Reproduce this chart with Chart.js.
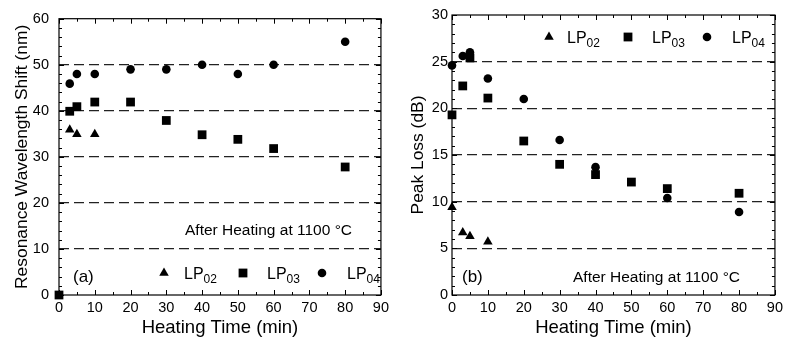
<!DOCTYPE html>
<html>
<head>
<meta charset="utf-8">
<script src="https://cdn.jsdelivr.net/npm/chart.js@4"></script>
<style>
  html, body { margin: 0; padding: 0; background: #fff; }
  #wrap { position: relative; width: 787px; height: 341px; }
  canvas { position: absolute; top: 0; }
</style>
</head>
<body>
<div id="wrap">
  <canvas id="chartA" width="393" height="341" style="left:0"></canvas>
  <canvas id="chartB" width="394" height="341" style="left:393px"></canvas>
</div>
<script>
// (a) resonance wavelength shift, nm
const lp02TimeA = [3, 5, 10];
const lp02ShiftA = [35.9, 34.9, 34.9];
const lp03TimeA = [0, 3, 5, 10, 20, 30, 40, 50, 60, 80];
const lp03ShiftA = [0, 39.9, 40.9, 41.9, 41.9, 37.9, 34.8, 33.8, 31.8, 27.8];
const lp04TimeA = [3, 5, 10, 20, 30, 40, 50, 60, 80];
const lp04ShiftA = [45.9, 48, 48, 49, 49, 50, 48, 50, 55];

// (b) peak loss, dB
const lp02TimeB = [0, 3, 5, 10];
const lp02LossB = [9.4, 6.7, 6.3, 5.7];
const lp03TimeB = [0, 3, 5, 10, 20, 30, 40, 50, 60, 80];
const lp03LossB = [19.3, 22.4, 25.4, 21.1, 16.5, 14.0, 12.9, 12.1, 11.4, 10.9];
const lp04TimeB = [0, 3, 5, 10, 20, 30, 40, 60, 80];
const lp04LossB = [24.6, 25.6, 26.0, 23.2, 21.0, 16.6, 13.7, 10.4, 8.9];

const modeNames = ['02', '03', '04'];
const FONT = "'Liberation Sans', Arial, sans-serif";

function pts(xs, ys) { return xs.map((t, i) => ({ x: t, y: ys[i] })); }

function ds(xs, ys, style, r) {
  return { data: pts(xs, ys), pointStyle: style, pointRadius: r, pointHoverRadius: r,
    backgroundColor: '#000', borderColor: '#000', borderWidth: 0, clip: false };
}

// frame on four sides with inward major/minor ticks
const frameTicks = {
  id: 'frameTicks',
  afterDraw(chart, args, o) {
    const { ctx, chartArea: a, scales: { x, y } } = chart;
    ctx.save();
    ctx.strokeStyle = '#000';
    ctx.lineWidth = 1.2;
    ctx.strokeRect(a.left, a.top, a.right - a.left, a.bottom - a.top);
    ctx.beginPath();
    for (let v = x.min; v <= x.max + 1e-6; v += o.xMinor) {
      const p = Math.round(x.getPixelForValue(v)) + 0.5;
      const len = Math.abs(v / o.xMajor - Math.round(v / o.xMajor)) < 1e-6 ? 5 : 3;
      ctx.moveTo(p, a.bottom); ctx.lineTo(p, a.bottom - len);
      ctx.moveTo(p, a.top); ctx.lineTo(p, a.top + len);
    }
    for (let v = y.min; v <= y.max + 1e-6; v += o.yMinor) {
      const p = Math.round(y.getPixelForValue(v)) + 0.5;
      const len = Math.abs(v / o.yMajor - Math.round(v / o.yMajor)) < 1e-6 ? 5 : 3;
      ctx.moveTo(a.left, p); ctx.lineTo(a.left + len, p);
      ctx.moveTo(a.right, p); ctx.lineTo(a.right - len, p);
    }
    ctx.lineWidth = 1;
    ctx.stroke();
    ctx.restore();
  }
};

function marker(ctx, style, cx, cy) {
  ctx.beginPath();
  if (style === 'triangle') {
    const r = 5.5;
    ctx.moveTo(cx, cy - r);
    ctx.lineTo(cx + r * 0.866, cy + r / 2);
    ctx.lineTo(cx - r * 0.866, cy + r / 2);
    ctx.closePath();
  } else if (style === 'rect') {
    ctx.rect(cx - 4.4, cy - 4.4, 8.8, 8.8);
  } else {
    ctx.arc(cx, cy, 4.3, 0, Math.PI * 2);
  }
  ctx.fill();
}

// legend with subscripts, panel letter and heating note
const notes = {
  id: 'notes',
  afterDraw(chart, args, o) {
    const ctx = chart.ctx;
    ctx.save();
    ctx.fillStyle = '#000';
    ctx.textBaseline = 'alphabetic';
    const styles = ['triangle', 'rect', 'circle'];
    o.legend.forEach((it, i) => {
      marker(ctx, styles[i], it.mx, o.legendY);
      ctx.font = '16px ' + FONT;
      ctx.textAlign = 'left';
      ctx.fillText('LP', it.tx, o.legendY + 6);
      const w = ctx.measureText('LP').width;
      ctx.font = '12px ' + FONT;
      ctx.fillText(modeNames[i], it.tx + w, o.legendY + 10);
    });
    ctx.font = '17px ' + FONT;
    ctx.fillText(o.letter, o.letterX, o.letterY);
    ctx.font = '15.5px ' + FONT;
    ctx.fillText('After Heating at 1100 °C', o.noteX, o.noteY);
    ctx.restore();
  }
};

function makeChart(id, sets, yMax, yStep, yMinor, yTitle, titlePad, labelPad, rightPad, noteOpts) {
  return new Chart(document.getElementById(id), {
    type: 'scatter',
    data: { datasets: sets },
    plugins: [frameTicks, notes],
    options: {
      responsive: false,
      animation: false,
      events: [],
      layout: { padding: { top: 15, right: rightPad, left: 0, bottom: 0 } },
      plugins: {
        legend: { display: false },
        tooltip: { enabled: false },
        frameTicks: { xMajor: 10, xMinor: 5, yMajor: yStep, yMinor: yMinor },
        notes: noteOpts
      },
      scales: {
        x: {
          type: 'linear', min: 0, max: 90,
          afterFit: s => { s.height = 46; },
          border: { display: false },
          grid: { display: false, drawTicks: false },
          ticks: { stepSize: 10, padding: 4, color: '#000', font: { family: FONT, size: 14.5 } },
          title: { display: true, text: 'Heating Time (min)', color: '#000',
            font: { family: FONT, size: 18.5 }, padding: { top: 0, bottom: 2 } }
        },
        y: {
          type: 'linear', min: 0, max: yMax,
          afterFit: s => { s.width = 59; },
          border: { display: false, dash: [10, 5] },
          grid: {
            drawTicks: false, lineWidth: 1.2,
            color: c => (c.tick.value === 0 || c.tick.value === yMax) ? 'rgba(0,0,0,0)' : '#222'
          },
          ticks: { stepSize: yStep, padding: labelPad, color: '#000', font: { family: FONT, size: 14.5 } },
          title: { display: true, text: yTitle, color: '#000',
            font: { family: FONT, size: 17.4 }, padding: { top: titlePad, bottom: 0 } }
        }
      }
    }
  });
}

makeChart('chartA', [
  ds(lp02TimeA, lp02ShiftA, 'triangle', 5.5),
  ds(lp03TimeA, lp03ShiftA, 'rect', 6.2),
  ds(lp04TimeA, lp04ShiftA, 'circle', 4.3)
], 60, 10, 2, 'Resonance Wavelength Shift (nm)', 12, 10, 6, {
  legend: [{ mx: 164, tx: 184 }, { mx: 243, tx: 267 }, { mx: 322, tx: 347 }],
  legendY: 273, letter: '(a)', letterX: 73, letterY: 282, noteX: 185, noteY: 235
});

makeChart('chartB', [
  ds(lp02TimeB, lp02LossB, 'triangle', 5.5),
  ds(lp03TimeB, lp03LossB, 'rect', 6.2),
  ds(lp04TimeB, lp04LossB, 'circle', 4.3)
], 30, 5, 1, 'Peak Loss (dB)', 15, 4, 7, {
  legend: [{ mx: 156, tx: 174 }, { mx: 235, tx: 259 }, { mx: 314, tx: 339 }],
  legendY: 37, letter: '(b)', letterX: 69, letterY: 282, noteX: 180, noteY: 282
});
</script>
</body>
</html>
